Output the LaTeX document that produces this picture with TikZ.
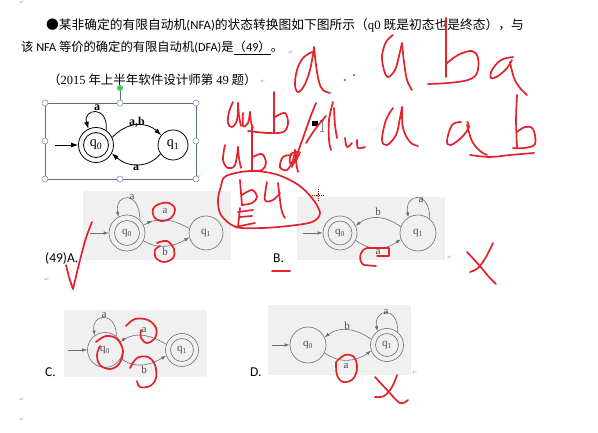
\documentclass[tikz,border=0pt]{standalone}
\usepackage{fontspec}
\usetikzlibrary{arrows.meta,decorations.markings}
\newfontfamily\cjk{Noto Sans CJK SC}
\newfontfamily\calib{Carlito}
\newfontfamily\tms{Liberation Serif}
\newfontfamily\djv{DejaVu Sans}
\definecolor{hand}{HTML}{E3222B}
\definecolor{optgray}{HTML}{F0F0F0}
\definecolor{optline}{HTML}{6E6E6E}
\definecolor{selblue}{HTML}{56708F}
\tikzset{
  hw/.style={draw=hand, line width=1.7pt, line cap=round, line join=round},
  nst/.style={circle, draw=black, line width=0.8pt, inner sep=0pt, minimum size=#1, font=\tms\fontsize{14}{14}\selectfont},
  narr/.style={-{Latex[length=7pt,width=5pt]}, line width=0.8pt},
  ost/.style={circle, draw=optline, line width=0.6pt, inner sep=0pt, minimum size=#1, text=optline!70!black, font=\tms\fontsize{11}{11}\selectfont},
  oarr/.style={-{Latex[length=5pt,width=3.5pt]}, draw=optline, line width=0.6pt},
  olin/.style={draw=optline, line width=0.6pt},
  omark/.style={postaction={decorate}, decoration={markings, mark=at position #1 with {\arrow[optline]{Latex[length=5pt,width=3.5pt]}}}},
  olab/.style={inner sep=0pt, text=optline!70!black, font=\tms\fontsize{11}{11}\selectfont},
  nlab/.style={inner sep=0pt, font=\tms\bfseries\fontsize{12}{12}\selectfont},
  handle/.style={circle, draw=selblue!80, fill=white, line width=0.5pt, inner sep=0pt, minimum size=6pt},
  para/.style={inner sep=0pt, text=gray!70, font=\djv\fontsize{6}{6}\selectfont},
  optlab/.style={anchor=base west, inner sep=0pt, font=\calib\fontsize{13.5}{13.5}\selectfont},
}
\begin{document}
\begin{tikzpicture}[x=1pt,y=-1pt]
\useasboundingbox (0,0) rectangle (598,433);
\fill[white] (0,0) rectangle (598,433);

% ---------- text ----------
\node[anchor=base west, inner sep=0pt, font=\fontsize{12.75}{12.75}\selectfont] (line1) at (46,30)
  {\cjk ●某非确定的有限自动机{\calib (NFA)}的状态转换图如下图所示（{\tms q0} 既是初态也是终态），与};
\node[anchor=base west, inner sep=0pt, font=\fontsize{12.3}{12.3}\selectfont] (line2) at (21,52)
  {\cjk 该 {\calib NFA} 等价的确定的有限自动机{\calib (DFA)}是\underline{（{\calib 49}）}。};
\node[anchor=base west, inner sep=0pt, font=\fontsize{12.5}{12.5}\selectfont] (line3) at (48,85)
  {\cjk （{\tms 2015} 年上半年软件设计师第 {\tms 49} 题）};

\node[para] (p0) at (22,3) {↵};
\node[para] (p1) at (291,53) {↵};
\node[para] (p2) at (263,82) {↵};
\node[para] (p3) at (199,177) {↵};
\node[para] (p4) at (47,280) {↵};
\node[para] (p5) at (450,258) {↵};
\node[para] (p6) at (415,373) {↵};
\node[para] (p7) at (22,400) {↵};
\node[para] (p8) at (22,420) {↵};

% ---------- NFA in selection frame ----------
\draw[selblue, line width=0.8pt] (45,103) rectangle (196,179);
\draw[selblue, line width=0.6pt] (120,91) -- (120,103);
\node[circle, fill=green!70!black!70, inner sep=0pt, minimum size=6pt] (rot) at (120,88) {};
\node[handle] (h1) at (45,103) {};
\node[handle] (h2) at (120,103) {};
\node[handle] (h3) at (196,103) {};
\node[handle] (h4) at (45,141) {};
\node[handle] (h5) at (196,141) {};
\node[handle] (h6) at (45,179) {};
\node[handle] (h7) at (120,179) {};
\node[handle] (h8) at (196,179) {};

\node[nst=35pt] (n0) at (96,145) {};
\node[nst=25pt] (n0i) at (96,145) {q\textsubscript{0}};
\node[nst=30pt] (n1) at (173,145) {q\textsubscript{1}};
\coordinate (nstart) at (55,145);
\draw[narr] (nstart) -- (n0.west);
\draw[narr] (n0.55) .. controls +(2,-26) and +(-6,-20) .. (n0.115);
\node[nlab] (nla) at (97,108) {a};
\draw[narr] (n0.25) .. controls +(16,-17) and +(-14,-13) .. (n1.140);
\node[nlab] (nlab1) at (137,122) {a,b};
\draw[narr] (n1.-145) .. controls +(-12,15) and +(16,14) .. (n0.-28);
\node[nlab] (nlab2) at (136,168) {a};

% ---------- option A ----------
\fill[optgray] (83,191) rectangle (231,260);
\node[ost=36pt] (a0) at (127,233) {};
\node[ost=25pt] (a0i) at (127,233) {q\textsubscript{0}};
\node[ost=34pt] (a1) at (206,233) {q\textsubscript{1}};
\coordinate (astart) at (90,233);
\draw[oarr] (astart) -- (a0.west);
\draw[oarr] (a0.45) .. controls +(0,-30) and +(-4,-24) .. (a0.118);
\node[olab] (ala) at (132,197) {a};
\draw[olin, omark=0.2] (a0.25) .. controls +(16,-10) and +(-14,-8) .. (a1.165);
\node[olab] (alb) at (165,211) {a};
\draw[oarr] (a0.-25) .. controls +(16,10) and +(-14,8) .. (a1.-165);
\node[olab] (alc) at (165,252) {b};
\node[optlab] (la) at (45,262) {(49)A.};

% ---------- option B ----------
\fill[optgray] (297,197) rectangle (445,260);
\node[ost=34pt] (b0) at (340,233) {};
\node[ost=24pt] (b0i) at (340,233) {q\textsubscript{0}};
\node[ost=36pt] (b1) at (418,233) {q\textsubscript{1}};
\coordinate (bstart) at (303,233);
\draw[oarr] (bstart) -- (b0.west);
\draw[oarr] (b1.50) .. controls +(0,-30) and +(-4,-24) .. (b1.122);
\node[olab] (bla) at (421,200) {a};
\draw[oarr] (b1.160) .. controls +(-14,-10) and +(16,-12) .. (b0.25);
\node[olab] (blb) at (378,212) {b};
\draw[oarr] (b0.-25) .. controls +(16,12) and +(-14,10) .. (b1.-160);
\node[olab] (blc) at (378,252) {a};
\node[optlab] (lb) at (273,262) {B.};

% ---------- option C ----------
\fill[optgray] (64,310) rectangle (207,377);
\node[ost=35pt] (c0) at (105,350) {q\textsubscript{0}};
\node[ost=33pt] (c1) at (182,350) {};
\node[ost=23pt] (c1i) at (182,350) {q\textsubscript{1}};
\coordinate (cstart) at (68,350);
\draw[oarr] (cstart) -- (c0.west);
\draw[oarr] (c0.50) .. controls +(0,-26) and +(-4,-22) .. (c0.125);
\node[olab] (cla) at (104,315) {a};
\draw[olin, omark=0.15] (c0.28) .. controls +(16,-12) and +(-14,-8) .. (c1.160);
\node[olab] (clb) at (144,330) {a};
\draw[oarr] (c0.-28) .. controls +(16,12) and +(-14,8) .. (c1.-160);
\node[olab] (clc) at (144,370) {b};
\node[optlab] (lc) at (45,377) {C.};

% ---------- option D ----------
\fill[optgray] (268,305) rectangle (411,375);
\node[ost=36pt] (d0) at (308,345) {q\textsubscript{0}};
\node[ost=33pt] (d1) at (387,345) {};
\node[ost=23pt] (d1i) at (387,345) {q\textsubscript{1}};
\coordinate (dstart) at (272,345);
\draw[oarr] (dstart) -- (d0.west);
\draw[oarr] (d1.50) .. controls +(0,-28) and +(-4,-22) .. (d1.125);
\node[olab] (dla) at (386,312) {a};
\draw[oarr] (d1.160) .. controls +(-14,-10) and +(16,-12) .. (d0.25);
\node[olab] (dlb) at (347,326) {b};
\draw[oarr] (d0.-25) .. controls +(16,12) and +(-14,10) .. (d1.-160);
\node[olab] (dlc) at (346,366) {a};
\node[optlab] (ld) at (250,377) {D.};

% ---------- cursors ----------
\fill[black] (312,121) rectangle (318,126);
\draw[gray, line width=0.6pt] (322,120) -- (322,131) (320,120) -- (324,120) (320,131) -- (324,131);
\draw[red!55!black, line width=0.8pt, densely dotted] (312,195) -- (324,195) (318,189) -- (318,201);

% ---------- handwriting ----------
% top row: a . . a b a
\draw[hw] plot[smooth, tension=0.6] coordinates {(312,52)(303,58)(297,70)(295,85)(298,92)(304,86)(310,70)(314,48)};
\draw[hw] plot[smooth, tension=0.6] coordinates {(314,47)(316,65)(319,82)(323,90)(330,93)};
\fill[hand] (345,80) circle (1.1) (354,75) circle (1.1);
\draw[hw] plot[smooth, tension=0.6] coordinates {(393,35)(386,42)(382,56)(384,70)(388,77)(395,70)(399,56)(402,43)};
\draw[hw] plot[smooth, tension=0.6] coordinates {(402,43)(404,62)(407,80)(412,90)};
\draw[hw] plot[smooth, tension=0.5] coordinates {(446,18)(446,45)(446,77)};
\draw[hw] plot[smooth, tension=0.6] coordinates {(446,64)(458,55)(472,51)(478,58)(477,73)(468,80)(448,83)(428,84)};
\draw[hw] plot[smooth, tension=0.6] coordinates {(513,57)(501,60)(492,70)(491,78)(498,76)(507,68)(512,60)};
\draw[hw] plot[smooth, tension=0.6] coordinates {(510,62)(514,78)(520,88)(527,95)};
% second row right
\draw[hw] plot[smooth, tension=0.6] coordinates {(316,103)(310,118)(303,138)(296,157)(292,167)};
\draw[hw] plot[smooth, tension=0.6] coordinates {(297,152)(291,154)(290,163)(295,162)(300,152)};
\draw[hw] plot[smooth, tension=0.6] coordinates {(306,143)(316,128)(326,116)};
\draw[hw] plot[smooth, tension=0.6] coordinates {(333,102)(329,120)(329,140)(331,150)};
\draw[hw] plot[smooth, tension=0.6] coordinates {(334,108)(335,125)(337,138)};
\draw[hw] plot[smooth, tension=0.6] coordinates {(345,138)(347,147)(352,143)};
\draw[hw] plot[smooth, tension=0.6] coordinates {(357,140)(358,148)(365,147)};
\draw[hw] plot[smooth, tension=0.6] coordinates {(393,108)(386,120)(382,140)(387,145)(396,135)(400,118)(402,107)};
\draw[hw] plot[smooth, tension=0.6] coordinates {(402,107)(403,128)(410,142)(418,146)};
\draw[hw] plot[smooth, tension=0.6] coordinates {(461,122)(452,125)(447,141)(451,145)(462,137)(469,127)(467,122)};
\draw[hw] plot[smooth, tension=0.6] coordinates {(467,125)(472,141)(480,151)(487,155)};
\draw[hw] plot[smooth, tension=0.5] coordinates {(517,95)(516,120)(517,147)};
\draw[hw] plot[smooth, tension=0.6] coordinates {(517,132)(525,127)(533,129)(535,144)(524,148)(513,148)};
\draw[hw] plot[smooth, tension=0.6] coordinates {(470,155)(490,157)(510,155)(534,153)};
% second row left: a a b
\draw[hw] plot[smooth, tension=0.6] coordinates {(233,102)(229,112)(228,123)(232,127)(237,120)(238,103)};
\draw[hw] plot[smooth, tension=0.6] coordinates {(238,103)(239,116)(241,126)};
\draw[hw] plot[smooth, tension=0.6] coordinates {(243,113)(243,126)(248,123)(250,112)};
\draw[hw] plot[smooth, tension=0.6] coordinates {(250,112)(251,122)(253,128)};
\draw[hw] plot[smooth, tension=0.5] coordinates {(274,92)(274,112)(274,133)};
\draw[hw] plot[smooth, tension=0.6] coordinates {(275,117)(285,113)(288,124)(283,132)(268,133)(248,131)};
% third row: u b a
\draw[hw] plot[smooth, tension=0.6] coordinates {(225,145)(223,160)(228,168)(235,165)(238,147)};
\draw[hw] plot[smooth, tension=0.6] coordinates {(238,147)(239,158)(241,168)};
\draw[hw] plot[smooth, tension=0.5] coordinates {(252,127)(252,150)(252,170)};
\draw[hw] plot[smooth, tension=0.6] coordinates {(253,157)(262,154)(266,163)(262,170)(252,171)};
\draw[hw] plot[smooth, tension=0.6] coordinates {(292,155)(283,157)(280,167)(287,170)(293,160)(295,150)};
\draw[hw] plot[smooth, tension=0.6] coordinates {(295,150)(296,162)(298,172)};
% circled b4 with lines
\draw[hw] plot[smooth cycle, tension=0.55] coordinates {(226,176)(250,171)(275,174)(297,184)(312,198)(320,213)(312,222)(288,226)(262,228)(236,227)(221,215)(218,200)(221,186)};
\draw[hw] plot[smooth, tension=0.5] coordinates {(240,180)(241,193)(242,205)};
\draw[hw] plot[smooth, tension=0.6] coordinates {(242,195)(252,190)(257,197)(252,203)(242,205)};
\draw[hw] plot[smooth, tension=0.6] coordinates {(267,182)(265,200)(273,200)(280,193)};
\draw[hw] plot[smooth, tension=0.6] coordinates {(278,183)(280,200)(282,212)(285,218)};
\draw[hw] (238,212) -- (253,210) (240,217) -- (252,216) (235,227) -- (255,223) (240,208) -- (238,227);
% option A marks
\draw[hw] plot[smooth cycle, tension=0.6] coordinates {(153,209)(159,204)(169,203)(175,209)(171,218)(161,221)(154,217)};
\draw[hw] plot[smooth, tension=0.6] coordinates {(157,243)(167,241)(174,249)(173,258)(164,262)(156,258)(155,250)(160,246)};
\draw[hw] plot[smooth, tension=0.5] coordinates {(66,265)(69,277)(73,289)};
\draw[hw] plot[smooth, tension=0.5] coordinates {(73,289)(80,260)(86,238)(92,222)};
% option B marks
\draw[hw] (272,271) -- (290,271);
\draw[hw] (377,256) -- (389,256) -- (389,248) -- (367,248) .. controls (359,250) and (358,262) .. (364,265) -- (376,266);
\draw[hw] plot[smooth, tension=0.6] coordinates {(467,252)(479,265)(489,277)(496,284)};
\draw[hw] plot[smooth, tension=0.6] coordinates {(493,243)(486,257)(478,268)(470,272)};
% option C marks
\draw[hw] plot[smooth, tension=0.6] coordinates {(96,342)(106,336)(117,339)(123,351)(119,364)(110,369)(100,365)(97,355)(100,346)};
\draw[hw] plot[smooth, tension=0.6] coordinates {(126,326)(135,319)(148,320)(156,328)(155,338)(147,343)(141,338)(141,330)};
\draw[hw] plot[smooth, tension=0.6] coordinates {(130,368)(137,358)(148,357)(155,365)(156,378)(150,386)(140,387)(137,381)};
% option D marks
\draw[hw] plot[smooth, tension=0.6] coordinates {(337,361)(345,355)(354,357)(357,368)(353,379)(343,382)(337,375)(336,362)};
\draw[hw] plot[smooth, tension=0.6] coordinates {(397,375)(392,387)(384,396)(375,397)};
\draw[hw] plot[smooth, tension=0.6] coordinates {(375,377)(388,391)(400,403)(408,400)};
\end{tikzpicture}
\end{document}
